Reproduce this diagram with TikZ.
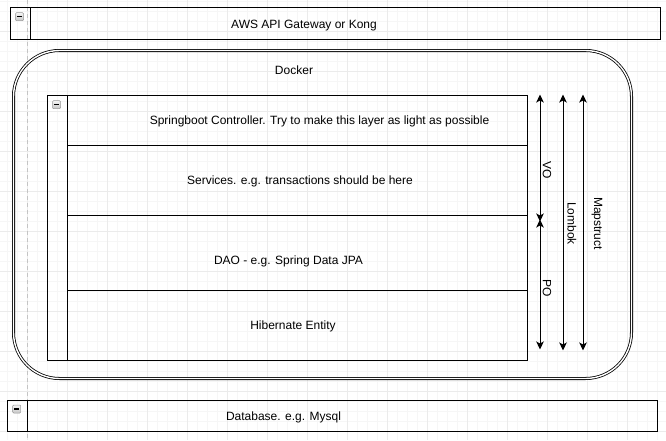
\documentclass[tikz,border=0pt]{standalone}
\usepackage{fontspec}
\setmainfont{Liberation Sans}
\usetikzlibrary{arrows.meta}
\definecolor{gridminor}{HTML}{F6F6F6}
\definecolor{gridmajor}{HTML}{EBEBEB}
\definecolor{pagebrk}{HTML}{C4C4C4}
\begin{document}
\begin{tikzpicture}[x=1pt,y=-1pt,
  lbl/.style={font=\fontsize{12}{14}\selectfont, inner sep=0pt, text=black},
  blbl/.style={lbl, anchor=base},
  box/.style={draw=black, line width=1pt, inner sep=0pt, fill=none},
  icon/.style={draw=gray!80, top color=gray!8, bottom color=gray!45, rounded corners=1pt,
    minimum size=8pt, inner sep=0pt, line width=0.5pt},
  arr/.style={line width=1pt, draw=black, {Stealth[length=8pt,width=7.5pt,inset=2pt]}-{Stealth[length=8pt,width=7.5pt,inset=2pt]}},
  divider/.style={line width=1pt, draw=black}
]
\useasboundingbox (0,0) rectangle (666,440);
\fill[white] (0,0) rectangle (666,440);
% background grid
\foreach \x in {7,17,...,667} \draw[gridminor, line width=0.6pt] (\x,0) -- (\x,440);
\foreach \y in {1,11,...,441} \draw[gridminor, line width=0.6pt] (0,\y) -- (666,\y);
\foreach \x in {27,67,...,667} \draw[gridmajor, line width=0.6pt] (\x,0) -- (\x,440);
\foreach \y in {31,71,...,431} \draw[gridmajor, line width=0.6pt] (0,\y) -- (666,\y);
\draw[pagebrk, line width=0.7pt, dash pattern=on 4pt off 3pt] (27,0) -- (27,440);

% AWS API Gateway
\node[box, minimum width=650pt, minimum height=32pt] (gw) at (335,23) {};
\coordinate (gwdt) at (30,7);
\coordinate (gwdb) at (30,39);
\draw[divider] (gwdt) -- (gwdb);
\node[icon] (gwicon) at (19.5,16.7) {\rule[-0.6pt]{5pt}{1.2pt}};
\node[blbl] (gwtext) at (304,28.3) {AWS API Gateway or Kong};

% Docker
\node[draw=black, line width=0.8pt, double=white, double distance=1.4pt, rounded corners=46pt,
  minimum width=618pt, minimum height=328pt, inner sep=0pt] (docker) at (322.5,214.5) {};
\node[blbl] (dockertext) at (294,74) {Docker};

% swimlane container
\node[box, minimum width=480pt, minimum height=265pt] (lane) at (287,227.5) {};
\coordinate (lanedt) at (67,95);
\coordinate (lanedb) at (67,360);
\draw[divider] (lanedt) -- (lanedb);
\node[icon] (laneicon) at (56.5,104.7) {\rule[-0.6pt]{5pt}{1.2pt}};

% rows
\node[box, minimum width=460pt, minimum height=50pt] (r1) at (297,120) {};
\node[box, minimum width=460pt, minimum height=70pt] (r2) at (297,180) {};
\node[box, minimum width=460pt, minimum height=75pt] (r3) at (297,252.5) {};
\node[box, minimum width=460pt, minimum height=70pt] (r4) at (297,325) {};
\node[blbl] (t1) at (319.5,124.2) {Springboot Controller. Try to make this layer as light as possible};
\node[blbl] (t2) at (300,184.7) {Services. e.g. transactions should be here};
\node[blbl] (t3) at (288.5,264.5) {DAO - e.g. Spring Data JPA};
\node[blbl] (t4) at (293,329.5) {Hibernate Entity};

% arrows
\coordinate (voA) at (540,94.5);
\coordinate (voB) at (540,221.5);
\coordinate (poA) at (540,219.5);
\coordinate (poB) at (540,349.5);
\coordinate (lbA) at (563,94.5);
\coordinate (lbB) at (563,350.5);
\coordinate (msA) at (583,94.5);
\coordinate (msB) at (583,350.5);
\draw[arr] (voA) -- (voB);
\draw[arr] (poA) -- (poB);
\draw[arr] (lbA) -- (lbB);
\draw[arr] (msA) -- (msB);
\node[lbl, rotate=-90] (vo) at (547,170.5) {VO};
\node[lbl, rotate=-90] (po) at (547,288.5) {PO};
\node[lbl, rotate=-90] (lombok) at (572,223.5) {Lombok};
\node[lbl, rotate=-90] (mapstruct) at (597,223.5) {Mapstruct};

% Database
\node[box, minimum width=650pt, minimum height=31pt] (db) at (332,415.5) {};
\coordinate (dbdt) at (27,400);
\coordinate (dbdb) at (27,431);
\draw[divider] (dbdt) -- (dbdb);
\node[icon] (dbicon) at (16.7,409) {\rule[-0.6pt]{5pt}{1.2pt}};
\node[blbl] (dbtext) at (283.5,420.3) {Database. e.g. Mysql};
\end{tikzpicture}
\end{document}
